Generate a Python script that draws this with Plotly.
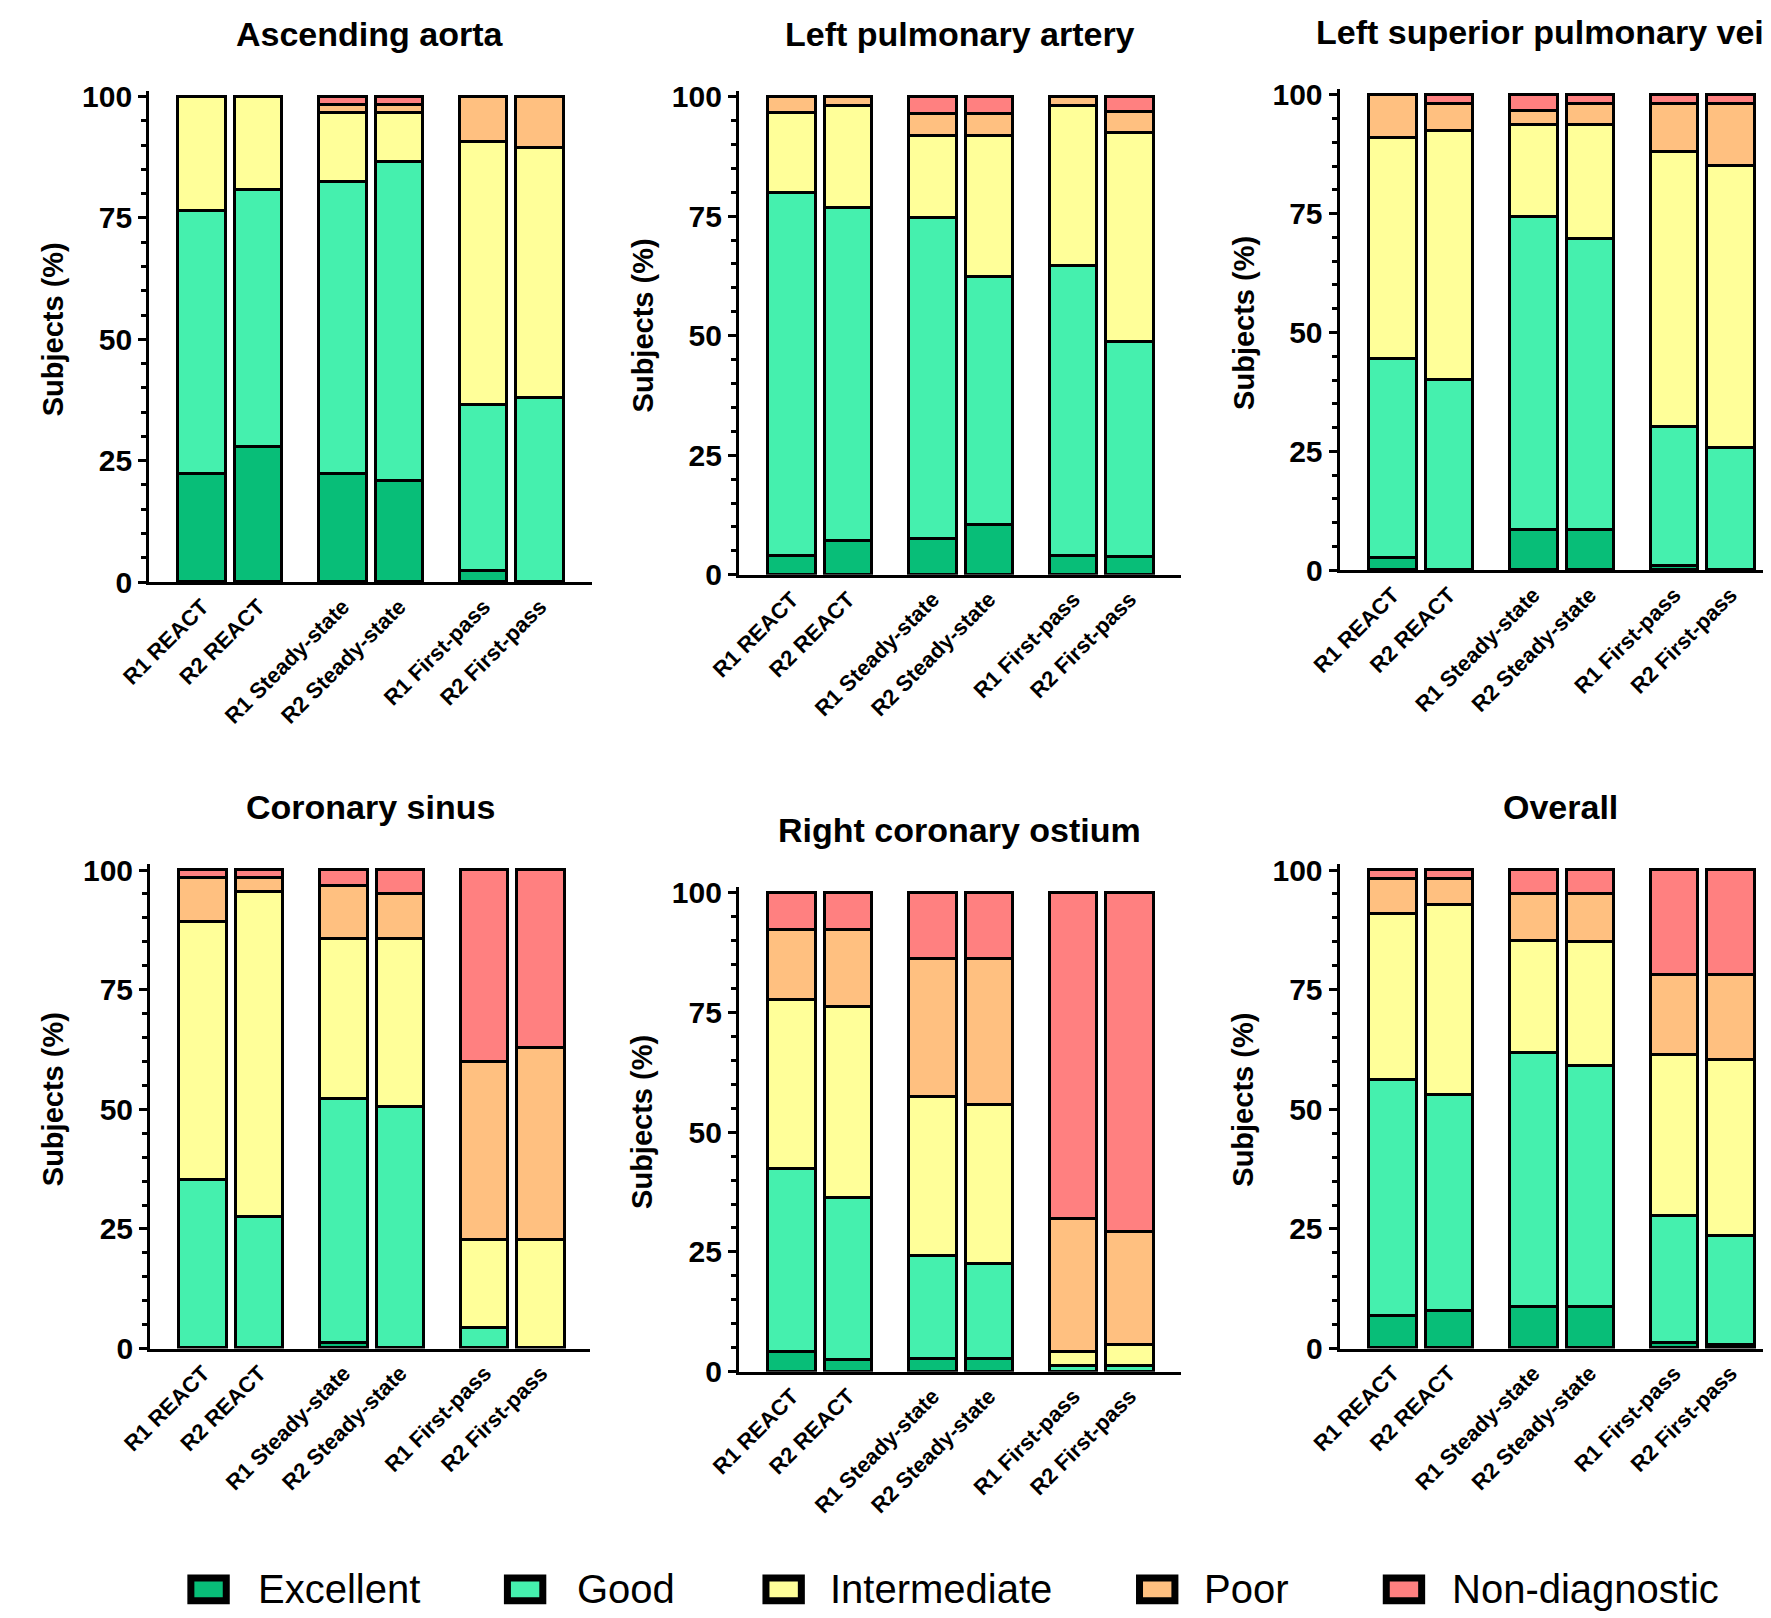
import plotly.graph_objects as go

W, H = 1771, 1618

categories = ["R1 REACT", "R2 REACT", "R1 Steady-state", "R2 Steady-state", "R1 First-pass", "R2 First-pass"]
positions = [0, 1, 2.5, 3.5, 5, 6]
grades = ["Excellent", "Good", "Intermediate", "Poor", "Non-diagnostic"]
grade_colors = ["#08BE78", "#45F0AE", "#FFFF99", "#FFC080", "#FF8080"]
y_tickvals = [0, 25, 50, 75, 100]
panel_titles = ["Ascending aorta", "Left pulmonary artery", "Left superior pulmonary vein",
                "Coronary sinus", "Right coronary ostium", "Overall"]

# Ascending aorta
aa_excellent = [22.4, 27.9, 22.4, 20.9, 2.3, 0]
aa_good = [54.1, 53.0, 60.0, 65.6, 34.2, 38.0]
aa_intermediate = [23.5, 19.1, 14.2, 10.1, 54.2, 51.4]
aa_poor = [0, 0, 1.7, 1.7, 9.3, 10.6]
aa_nondiag = [0, 0, 1.7, 1.7, 0, 0]

# Left pulmonary artery
lpa_excellent = [4.0, 7.0, 7.5, 10.4, 4.0, 3.8]
lpa_good = [75.9, 69.8, 67.1, 51.8, 60.7, 45.0]
lpa_intermediate = [16.6, 21.2, 17.2, 29.6, 33.3, 43.7]
lpa_poor = [3.5, 2.0, 4.6, 4.6, 2.0, 4.3]
lpa_nondiag = [0, 0, 3.6, 3.6, 0, 3.2]

# Left superior pulmonary vein
lspv_excellent = [2.5, 0, 8.5, 8.5, 1.0, 0]
lspv_good = [41.9, 40.1, 65.7, 61.2, 29.1, 25.8]
lspv_intermediate = [46.4, 52.2, 19.4, 23.9, 57.9, 59.2]
lspv_poor = [9.2, 5.7, 2.9, 4.4, 10.0, 13.0]
lspv_nondiag = [0, 2.0, 3.5, 2.0, 2.0, 2.0]

# Coronary sinus
cs_excellent = [0, 0, 1.2, 0, 0, 0]
cs_good = [35.1, 27.4, 50.8, 50.5, 4.2, 0]
cs_intermediate = [54.0, 67.9, 33.6, 35.1, 18.4, 22.6]
cs_poor = [9.2, 3.0, 10.9, 9.4, 37.2, 40.1]
cs_nondiag = [1.7, 1.7, 3.5, 5.0, 40.2, 37.3]

# Right coronary ostium
rco_excellent = [4.2, 2.5, 2.7, 2.7, 0, 0]
rco_good = [38.1, 33.8, 21.4, 19.9, 1.2, 1.2]
rco_intermediate = [35.3, 39.8, 33.3, 33.1, 3.0, 4.3]
rco_poor = [14.7, 16.2, 28.7, 30.4, 27.8, 23.6]
rco_nondiag = [7.7, 7.7, 13.9, 13.9, 68.0, 70.9]

# Overall
ov_excellent = [6.7, 7.9, 8.7, 8.7, 1.2, 0.7]
ov_good = [49.3, 45.1, 53.1, 50.3, 26.4, 22.7]
ov_intermediate = [34.8, 39.6, 23.3, 25.9, 33.7, 36.9]
ov_poor = [7.3, 5.5, 9.9, 10.1, 16.8, 17.8]
ov_nondiag = [1.9, 1.9, 5.0, 5.0, 21.9, 21.9]

panel_series = [
    [aa_excellent, aa_good, aa_intermediate, aa_poor, aa_nondiag],
    [lpa_excellent, lpa_good, lpa_intermediate, lpa_poor, lpa_nondiag],
    [lspv_excellent, lspv_good, lspv_intermediate, lspv_poor, lspv_nondiag],
    [cs_excellent, cs_good, cs_intermediate, cs_poor, cs_nondiag],
    [rco_excellent, rco_good, rco_intermediate, rco_poor, rco_nondiag],
    [ov_excellent, ov_good, ov_intermediate, ov_poor, ov_nondiag],
]

# layout geometry in pixels: (axis x, right end x, y of 100, y of 0)
geom = [
    (113, 564, 79, 573),
    (713, 1163, 79, 565.5),
    (1324, 1771, 77, 561),
    (114, 562, 866, 1353),
    (713, 1163, 889, 1376.5),
    (1324, 1771, 866, 1353),
]
# horizontal nudge of each panel title (px)
title_shift = [0, 0, -10, 0, 0, 0]
UNIT = 57.3
LEFT_PAD = 54.0
YTOP = 101.2

FONT = "Arial, Liberation Sans, sans-serif"

fig = go.Figure()
layout = dict(
    width=W, height=H, margin=dict(l=0, r=0, t=0, b=0),
    paper_bgcolor="white", plot_bgcolor="white",
    barmode="stack", showlegend=False, bargap=0,
)
annotations = []
shapes = []

for i, (series, title) in enumerate(zip(panel_series, panel_titles)):
    n = i + 1
    xa = "x" if n == 1 else f"x{n}"
    ya = "y" if n == 1 else f"y{n}"
    for vals, name, col in zip(series, grades, grade_colors):
        fig.add_trace(go.Bar(
            x=positions, y=[v if v > 0 else None for v in vals],
            name=name, xaxis=xa, yaxis=ya, width=0.84,
            marker=dict(color=col, line=dict(color="black", width=3)),
            showlegend=False,
        ))
    x0, x1, y100, y0 = geom[i]
    ppu = (y0 - y100) / 100.0
    ytop_px = y0 - YTOP * ppu
    rng_left = -LEFT_PAD / UNIT
    rng_right = rng_left + (x1 - x0) / UNIT
    layout["xaxis" + ("" if n == 1 else str(n))] = dict(
        domain=[x0 / W, x1 / W], anchor=ya, range=[rng_left, rng_right],
        tickvals=positions, ticktext=categories, tickangle=-45,
        ticks="", showline=True, linewidth=3, linecolor="black",
        showgrid=False, zeroline=False, fixedrange=True,
        tickfont=dict(family=FONT, size=22, color="black", weight="bold"),
    )
    layout["yaxis" + ("" if n == 1 else str(n))] = dict(
        domain=[1 - y0 / H, 1 - ytop_px / H], anchor=xa, range=[0, YTOP],
        tickvals=y_tickvals, ticks="outside", ticklen=8, tickwidth=3, tickcolor="black",
        showline=True, linewidth=3, linecolor="black",
        showgrid=False, zeroline=False,
        minor=dict(dtick=5, ticks="outside", ticklen=5, tickwidth=2.5, tickcolor="black"),
        tickfont=dict(family=FONT, size=30, color="black", weight="bold"),
    )
    annotations.append(dict(
        text=title, xref="paper", yref="paper",
        x=((x0 + x0 + 7.84 * UNIT) / 2 + title_shift[i]) / W, y=1 - (y100 - 64) / H,
        xanchor="center", yanchor="middle", showarrow=False,
        font=dict(family=FONT, size=34, color="black", weight="bold"),
    ))
    annotations.append(dict(
        text="Subjects (%)", xref="paper", yref="paper",
        x=(x0 - 98) / W, y=1 - ((y100 + y0) / 2 - 10) / H,
        xanchor="center", yanchor="middle", showarrow=False, textangle=-90,
        font=dict(family=FONT, size=29, color="black", weight="bold"),
    ))

# legend (manual, large boxes)
legend_box_x = [152, 474, 737, 1117, 1368]
legend_text_x = [222, 546, 804, 1184, 1436]
for name, col, bx, tx in zip(grades, grade_colors, legend_box_x, legend_text_x):
    shapes.append(dict(
        type="rect", xref="paper", yref="paper",
        x0=(bx + 3.5) / W, x1=(bx + 43 - 3.5) / W,
        y0=1 - (1613 - 3.5) / H, y1=1 - (1583 + 3.5) / H,
        fillcolor=col, line=dict(color="black", width=7),
    ))
    annotations.append(dict(
        text=name, xref="paper", yref="paper", x=tx / W, y=1 - 1598 / H,
        xanchor="left", yanchor="middle", showarrow=False,
        font=dict(family=FONT, size=40, color="black"),
    ))

layout["annotations"] = annotations
layout["shapes"] = shapes
fig.update_layout(**layout)
fig.write_html("out.html")
